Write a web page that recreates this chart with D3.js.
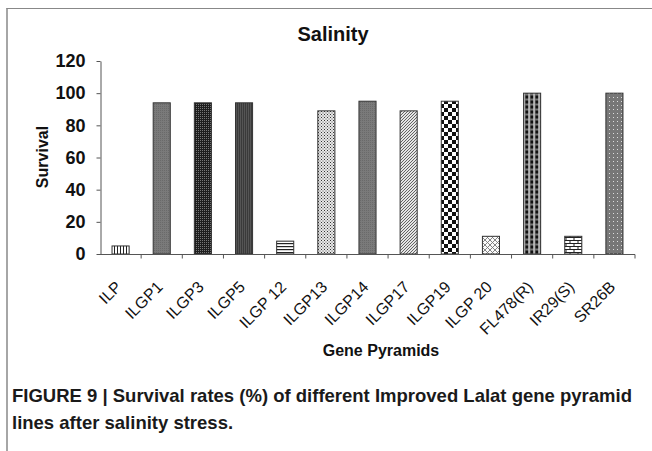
<!DOCTYPE html>
<html><head><meta charset="utf-8">
<script src="https://cdn.jsdelivr.net/npm/d3@7"></script>
<style>
html,body{margin:0;padding:0;background:#fff;}
text{font-family:"Liberation Sans",Arial,Helvetica,sans-serif;}
</style></head>
<body><svg id="c" width="652" height="451"></svg>
<script>
const categories = ["ILP","ILGP1","ILGP3","ILGP5","ILGP 12","ILGP13","ILGP14","ILGP17","ILGP19","ILGP 20","FL478(R)","IR29(S)","SR26B"];
const survival = [5,94,94,94,8,89,95,89,95,11,100,11,100];
const patterns = ["vlines","gray1","darkcheck","darkv","hlines","lightdots","gray1","diag","checker","diamond","grid","brick","graydots"];
const yTicks = [0,20,40,60,80,100,120];
const title = "Salinity";
const xTitle = "Gene Pyramids";
const yTitle = "Survival";
const caption = ["FIGURE 9 | Survival rates (%) of different Improved Lalat gene pyramid","lines after salinity stress."];

const svg = d3.select("#c");
const defs = svg.append("defs");
function pat(id,w,h,bg,draw){
  const p = defs.append("pattern").attr("id",id).attr("patternUnits","userSpaceOnUse").attr("width",w).attr("height",h);
  p.append("rect").attr("width",w).attr("height",h).attr("fill",bg);
  draw(p);
}
pat("vlines",3,3,"#fff",p=>p.append("rect").attr("x",0).attr("width",1).attr("height",3).attr("fill","#222"));
pat("hlines",3,3,"#fff",p=>p.append("rect").attr("y",0).attr("width",3).attr("height",1.2).attr("fill","#222"));
pat("gray1",2,2,"#7a7a7a",p=>p.append("rect").attr("width",1).attr("height",1).attr("fill","#6a6a6a"));
pat("darkcheck",2,2,"#1e1e1e",p=>p.append("rect").attr("width",1).attr("height",1).attr("fill","#777"));
pat("darkv",2,2,"#3a3a3a",p=>p.append("rect").attr("width",1).attr("height",2).attr("fill","#555"));
pat("lightdots",3,3,"#e8e8e8",p=>{p.append("rect").attr("width",1).attr("height",1).attr("fill","#333");p.append("rect").attr("x",1.5).attr("y",1.5).attr("width",1).attr("height",1).attr("fill","#555");});
pat("diag",3,3,"#e5e5e5",p=>p.append("path").attr("d","M0,3 L3,0").attr("stroke","#555").attr("stroke-width",0.9));
pat("checker",8,8,"#fff",p=>{p.append("rect").attr("width",4).attr("height",4).attr("fill","#111");p.append("rect").attr("x",4).attr("y",4).attr("width",4).attr("height",4).attr("fill","#111");});
pat("diamond",5,5,"#fafafa",p=>{p.append("path").attr("d","M0,0 L5,5 M5,0 L0,5").attr("stroke","#777").attr("stroke-width",0.9);});
pat("grid",5,5,"#fff",p=>{p.append("rect").attr("width",5).attr("height",5).attr("fill","#777");p.append("rect").attr("x",0.5).attr("y",0.5).attr("width",3).attr("height",3).attr("fill","#111");p.append("rect").attr("x",3.5).attr("y",0).attr("width",1).attr("height",5).attr("fill","#eee");});
pat("brick",8,6,"#fff",p=>{p.append("path").attr("d","M0,0.5 H8 M0,3.5 H8 M2,0.5 V3.5 M6,3.5 V6").attr("stroke","#222").attr("stroke-width",1);});
pat("graydots",4,4,"#777",p=>p.append("rect").attr("x",1).attr("y",1).attr("width",1).attr("height",1).attr("fill","#ddd"));

// frame
svg.append("line").attr("x1",6.5).attr("x2",652).attr("y1",8.5).attr("y2",8.5).attr("stroke","#888").attr("stroke-width",1);
svg.append("line").attr("x1",7).attr("x2",7).attr("y1",8).attr("y2",451).attr("stroke","#888").attr("stroke-width",1.5);

const x0 = 100, x1 = 635, yTop = 61, yBot = 254;
const pad = 0.585;
const x = d3.scaleBand().domain(categories).range([x0,x1]).paddingInner(pad).paddingOuter(pad/2);
const y = d3.scaleLinear().domain([0,120]).range([yBot,yTop]);

// bars
svg.append("g").selectAll("rect").data(categories).join("rect")
  .attr("x",d=>x(d)).attr("width",x.bandwidth())
  .attr("y",(d,i)=>y(survival[i])).attr("height",(d,i)=>y(0)-y(survival[i]))
  .attr("fill",(d,i)=>"url(#"+patterns[i]+")").attr("stroke","#333").attr("stroke-width",1);

// y axis
const ya = svg.append("g").attr("transform",`translate(${x0+0.5},0)`)
  .call(d3.axisLeft(y).tickValues(yTicks).tickSize(4).tickSizeOuter(0).tickPadding(11));
ya.select(".domain").attr("stroke","#555");
ya.selectAll(".tick line").attr("stroke","#555");
ya.selectAll(".tick text").attr("font-size",18).attr("font-weight","bold").attr("fill","#111")
  .attr("font-family","'Liberation Sans',Arial,sans-serif");

// x axis
const step = x.step();
const xa = svg.append("g").attr("transform",`translate(0,${yBot+0.5})`);
xa.append("line").attr("x1",x0).attr("x2",x1).attr("stroke","#555");
xa.selectAll("line.t").data(categories).join("line").attr("class","t")
  .attr("x1",d=>x(d)+x.bandwidth()+(step-x.bandwidth())/2).attr("x2",d=>x(d)+x.bandwidth()+(step-x.bandwidth())/2)
  .attr("y1",0).attr("y2",4).attr("stroke","#555");
svg.append("g").selectAll("text").data(categories).join("text")
  .attr("transform",d=>`translate(${x(d)+x.bandwidth()/2+2},${yBot+34}) rotate(-45)`)
  .attr("text-anchor","end").attr("font-size",16).attr("fill","#111").text(d=>d);

// titles
svg.append("text").attr("x",333).attr("y",41).attr("text-anchor","middle").attr("font-size",20).attr("font-weight","bold").attr("fill","#111").text(title);
svg.append("text").attr("x",381).attr("y",356).attr("text-anchor","middle").attr("font-size",16).attr("font-weight","bold").attr("fill","#111").text(xTitle);
svg.append("text").attr("transform","translate(48,157) rotate(-90)").attr("text-anchor","middle").attr("font-size",16).attr("font-weight","bold").attr("fill","#111").text(yTitle);

// caption
const cap = svg.append("g");
caption.forEach((t,i)=>{
  cap.append("text").attr("x",12).attr("y",402+i*27).attr("font-size",18.5).attr("font-weight","bold").attr("fill","#1a1a1a").text(t);
});
</script></body></html>
